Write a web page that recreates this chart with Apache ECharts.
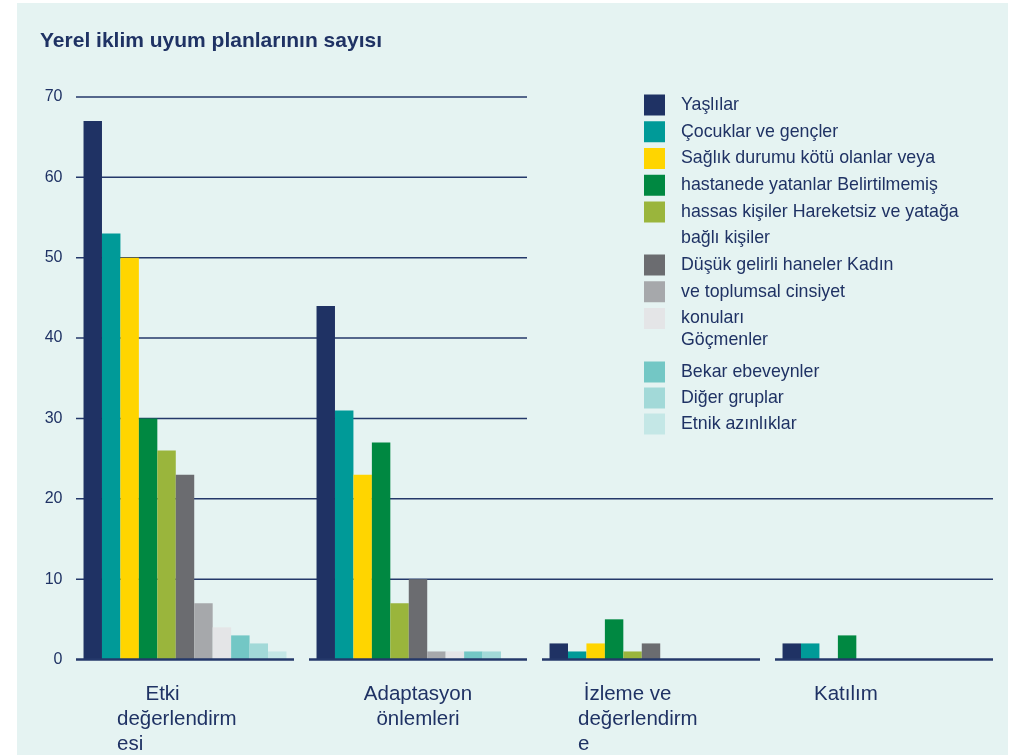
<!DOCTYPE html>
<html>
<head>
<meta charset="utf-8">
<script src="https://cdn.jsdelivr.net/npm/echarts@6/dist/echarts.min.js"></script>
<style>
  html, body { margin: 0; background: #fff; }
  #chart { position: absolute; left: 17px; top: 3px; width: 991px; height: 752px; background: #e5f3f2; }
</style>
</head>
<body>
<div id="chart"></div>
<script>
// data
const CATEGORIES = ['Etki değerlendirmesi', 'Adaptasyon önlemleri', 'İzleme ve değerlendirme', 'Katılım'];
// the picture wraps the category names like this
const CATEGORY_LINES = [
  ['     Etki', 'değerlendirm', 'esi'],
  ['Adaptasyon', 'önlemleri'],
  [' İzleme ve', 'değerlendirm', 'e'],
  ['Katılım'],
];
const Y_TICKS = [0, 10, 20, 30, 40, 50, 60, 70];

const SERIES_NAMES = [
  'Yaşlılar',
  'Çocuklar ve gençler',
  'Sağlık durumu kötü olanlar veya hastanede yatanlar',
  'Belirtilmemiş hassas kişiler',
  'Hareketsiz ve yatağa bağlı kişiler',
  'Düşük gelirli haneler',
  'Kadın ve toplumsal cinsiyet konuları',
  'Göçmenler',
  'Bekar ebeveynler',
  'Diğer gruplar',
  'Etnik azınlıklar',
];
// legend text as it is laid out in the picture (lines shifted against the boxes)
const LEGEND_LINES = [
  'Yaşlılar',
  'Çocuklar ve gençler',
  'Sağlık durumu kötü olanlar veya',
  'hastanede yatanlar Belirtilmemiş',
  'hassas kişiler Hareketsiz ve yatağa',
  'Düşük gelirli haneler Kadın',
  've toplumsal cinsiyet',
  'konuları',
  'Bekar ebeveynler',
  'Diğer gruplar',
  'Etnik azınlıklar',
];
const LEGEND_EXTRA_LINES = ['bağlı kişiler', 'Göçmenler'];

const yaslilar = [67, 44, 2, 2];
const cocuklar = [53, 31, 1, 2];
const saglik = [50, 23, 2, 0];
const belirtilmemis = [30, 27, 5, 3];
const hareketsiz = [26, 7, 1, 0];
const dusukGelirli = [23, 10, 2, 0];
const kadin = [7, 1, 0, 0];
const gocmenler = [4, 1, 0, 0];
const bekar = [3, 1, 0, 0];
const diger = [2, 1, 0, 0];
const etnik = [1, 0, 0, 0];

const SERIES_VALUES = [yaslilar, cocuklar, saglik, belirtilmemis, hareketsiz, dusukGelirli, kadin, gocmenler, bekar, diger, etnik];

// styling
const COLORS = ['#1f3264', '#009a98', '#ffd500', '#008841', '#9ab53c', '#6b6c70', '#a6a8ab', '#e4e5e7', '#73c7c5', '#a2d9d8', '#c4e7e6'];
const TEXT_COLOR = '#1f3264';
const LINE_COLOR = '#24386a';
const FONT = '"Liberation Sans", Arial, sans-serif';
const INSET = 7.5;
const LEGEND_PANEL_X = 510;
const LEGEND_FONT_SIZE = 17.8;
const CATEGORY_STYLES = ['etki', 'mid', 'izleme', 'katilim'];

const labelBase = { fontSize: 20.5, lineHeight: 25, color: TEXT_COLOR, fontFamily: FONT };

const legendBlock = (from, to, top, itemGap) => ({
  orient: 'vertical',
  left: 627,
  top,
  padding: 0,
  itemWidth: 21,
  itemHeight: 21,
  itemGap,
  icon: 'rect',
  selectedMode: false,
  data: SERIES_NAMES.slice(from, to),
  formatter: (name) => LEGEND_LINES[SERIES_NAMES.indexOf(name)],
  textStyle: { fontSize: LEGEND_FONT_SIZE, color: TEXT_COLOR, fontFamily: FONT, padding: [0, 0, 0, 11] },
});

const extraText = (text, y) => ({
  type: 'text',
  x: 664,
  y,
  style: { text, fill: TEXT_COLOR, font: `${LEGEND_FONT_SIZE}px ${FONT}`, verticalAlign: 'middle' },
});

const gridLines = {
  type: 'custom',
  silent: true,
  z: 1,
  data: Y_TICKS.filter((v) => v > 0).map((v) => [0, v]),
  renderItem: (params, api) => {
    const cs = params.coordSys;
    const v = api.value(1);
    const y = api.coord([0, v])[1];
    const x2 = v >= 30 ? LEGEND_PANEL_X : cs.x + cs.width - INSET;
    return {
      type: 'line',
      shape: { x1: cs.x + INSET, y1: y, x2, y2: y },
      style: { stroke: LINE_COLOR, lineWidth: 1.5 },
    };
  },
};

const baseline = {
  type: 'custom',
  silent: true,
  z: 5,
  data: CATEGORIES.map((c, i) => [i, 0]),
  renderItem: (params, api) => {
    const [x, y] = api.coord([api.value(0), 0]);
    const band = api.size([1, 0])[0];
    return {
      type: 'line',
      shape: { x1: x - band / 2 + INSET, y1: y, x2: x + band / 2 - INSET, y2: y },
      style: { stroke: LINE_COLOR, lineWidth: 2.5 },
    };
  },
};

const bars = SERIES_NAMES.map((name, i) => ({
  name,
  type: 'bar',
  z: 2,
  barGap: 0,
  barCategoryGap: '12.9%',
  itemStyle: { color: COLORS[i] },
  data: SERIES_VALUES[i],
}));

const chart = echarts.init(document.getElementById('chart'));
chart.setOption({
  animation: false,
  textStyle: { fontFamily: FONT },
  title: {
    text: 'Yerel iklim uyum planlarının sayısı',
    left: 23,
    top: 28,
    padding: 0,
    textStyle: { fontSize: 21, fontWeight: 'bold', color: TEXT_COLOR, fontFamily: FONT },
  },
  legend: [legendBlock(0, 5, 91.5, 5.75), legendBlock(5, 8, 251.5, 5.75), legendBlock(8, 11, 358.5, 5)],
  graphic: [extraText(LEGEND_EXTRA_LINES[0], 235), extraText(LEGEND_EXTRA_LINES[1], 337)],
  grid: { left: 51.5, right: 7.5, top: 94, bottom: 95.5 },
  xAxis: {
    type: 'category',
    data: CATEGORIES,
    axisLine: { show: false },
    axisTick: { show: false },
    axisLabel: {
      interval: 0,
      margin: 22,
      formatter: (value, i) => CATEGORY_LINES[i].map((line) => `{${CATEGORY_STYLES[i]}|${line}}`).join('\n'),
      rich: {
        etki: { ...labelBase, width: 136, align: 'left' },
        mid: { ...labelBase, align: 'center' },
        izleme: { ...labelBase, width: 146, align: 'left' },
        katilim: { ...labelBase, width: 140, align: 'left' },
      },
    },
  },
  yAxis: {
    type: 'value',
    min: Y_TICKS[0],
    max: Y_TICKS[Y_TICKS.length - 1],
    interval: 10,
    splitLine: { show: false },
    axisLine: { show: false },
    axisTick: { show: false },
    axisLabel: { margin: 6, fontSize: 16, color: TEXT_COLOR, fontFamily: FONT },
  },
  series: [gridLines, ...bars, baseline],
});
</script>
</body>
</html>
